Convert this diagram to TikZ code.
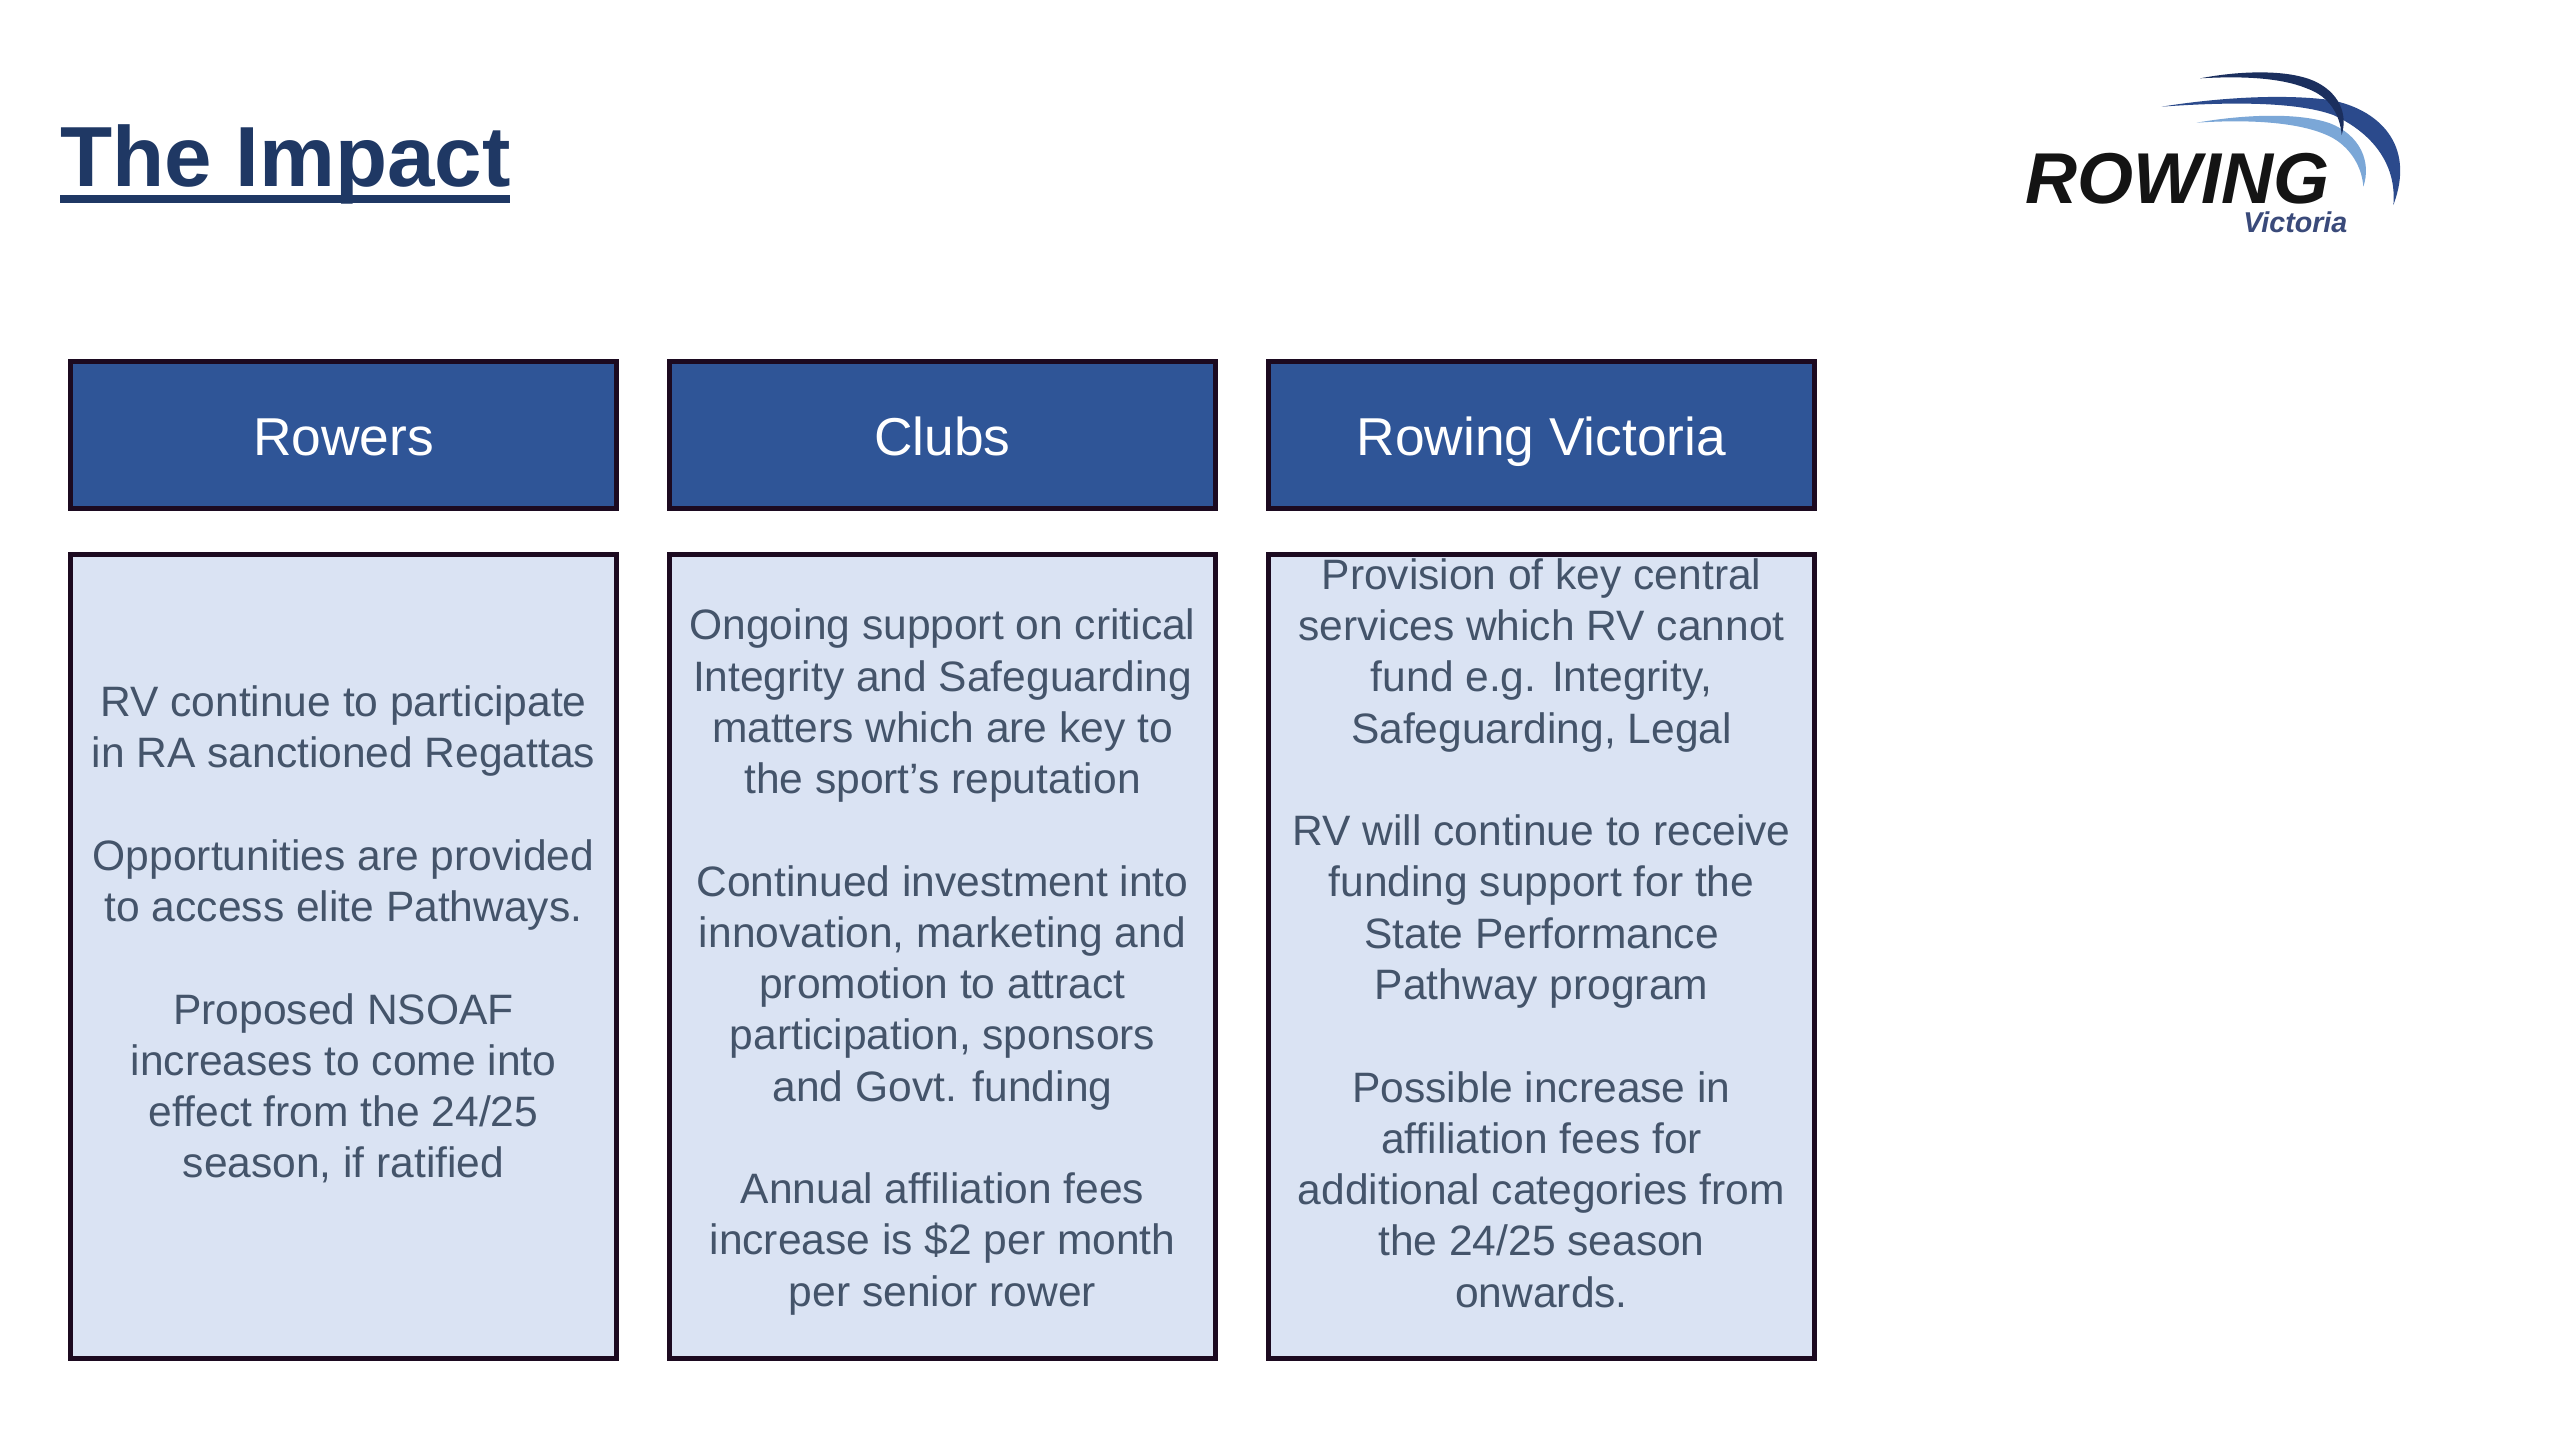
\documentclass[tikz,border=0pt]{standalone}
\usepackage{fontspec}
\setmainfont{Liberation Sans}
\definecolor{titleblue}{HTML}{1F3864}
\definecolor{headfill}{HTML}{2F5597}
\definecolor{bodyfill}{HTML}{DAE3F3}
\definecolor{edgedark}{HTML}{1C0A20}
\definecolor{bodytxt}{HTML}{44546A}
\definecolor{swnavy}{HTML}{1B2F5E}
\definecolor{swblue}{HTML}{2B4A8C}
\definecolor{swlight}{HTML}{7BA7D7}
\definecolor{logotxt}{HTML}{141414}
\definecolor{vicblue}{HTML}{3A4A7A}
\tikzset{
  headbox/.style={draw=edgedark,fill=headfill,line width=3.6pt,minimum width=410pt,minimum height=110pt,inner sep=0pt,
    text=white,font=\fontsize{40pt}{46pt}\selectfont,text height=30pt,text depth=0pt},
  bodybox/.style={draw=edgedark,fill=bodyfill,line width=3.6pt,minimum width=410pt,minimum height=603pt,inner sep=0pt},
  bodytext/.style={inner sep=0pt,align=center,text=bodytxt,font=\fontsize{31.9pt}{38.45pt}\selectfont}
}
\begin{document}
\begin{tikzpicture}[x=0.75pt,y=-0.75pt]
\useasboundingbox[fill=white] (0,0) rectangle (2560,1440);
% title
\node[anchor=base west,inner sep=0pt,text=titleblue,font=\fontsize{64pt}{70pt}\selectfont\bfseries] (title) at (60,186) {The Impact};
\coordinate (ulA) at (60,199);
\coordinate (ulB) at (510,199);
\draw[titleblue,line width=6pt] (ulA) -- (ulB);
% headers
\node[headbox] (h1) at (343.5,435) {Rowers};
\node[headbox] (h2) at (942.5,435) {Clubs};
\node[headbox] (h3) at (1541.5,435) {Rowing Victoria};
% bodies
\node[bodybox] (b1) at (343.5,956.5) {};
\node[bodybox] (b2) at (942.5,956.5) {};
\node[bodybox] (b3) at (1541.5,956.5) {};
\node[bodytext] (t1) at (343.5,934.5) {RV continue to participate\\in RA sanctioned Regattas\\ \mbox{}\\Opportunities are provided\\to access elite Pathways.\\ \mbox{}\\Proposed NSOAF\\increases to come into\\effect from the 24/25\\season, if ratified};
\node[bodytext] (t2) at (942.5,962) {Ongoing support on critical\\Integrity and Safeguarding\\matters which are key to\\the sport’s reputation\\ \mbox{}\\Continued investment into\\innovation, marketing and\\promotion to attract\\participation, sponsors\\and Govt. funding\\ \mbox{}\\Annual affiliation fees\\increase is \$2 per month\\per senior rower};
\node[bodytext] (t3) at (1541.5,933) {Provision of key central\\services which RV cannot\\fund e.g. Integrity,\\Safeguarding, Legal\\ \mbox{}\\RV will continue to receive\\funding support for the\\State Performance\\Pathway program\\ \mbox{}\\Possible increase in\\affiliation fees for\\additional categories from\\the 24/25 season\\onwards.};
% logo
\begin{scope}[shift={(1980,40)},x=0.25pt,y=-0.25pt]
\fill[swlight] (650,248) .. controls (800,222) and (960,218) .. (1050,250) .. controls (1140,285) and (1175,365) .. (1150,440) .. controls (1145,370) and (1100,310) .. (1040,285) .. controls (950,245) and (800,238) .. (650,248) -- cycle;
\fill[swblue] (545,200) .. controls (700,175) and (900,160) .. (1050,180) .. controls (1190,205) and (1310,310) .. (1240,495) .. controls (1250,385) and (1190,285) .. (1060,225) .. controls (950,185) and (750,185) .. (545,200) -- cycle;
\fill[swnavy] (660,115) .. controls (780,92) and (920,88) .. (1000,122) .. controls (1075,155) and (1105,220) .. (1085,285) .. controls (1080,225) and (1050,170) .. (980,145) .. controls (900,112) and (780,108) .. (660,115) -- cycle;
\end{scope}
\node[anchor=base west,inner sep=0pt,text=logotxt,text depth=0pt,font=\fontsize{54pt}{60pt}\selectfont\bfseries\itshape] (lg1) at (2025,203) {ROWING};
\node[anchor=base west,inner sep=0pt,text=vicblue,font=\fontsize{21.5pt}{26pt}\selectfont\bfseries\itshape] (lg2) at (2243,232) {Victoria};
\end{tikzpicture}
\end{document}
